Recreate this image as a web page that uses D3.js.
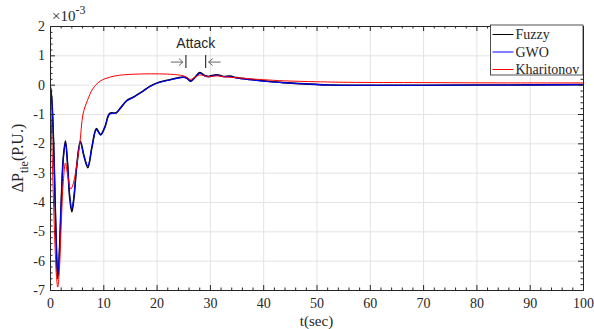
<!DOCTYPE html>
<html>
<head>
<meta charset="utf-8">
<script src="https://cdn.jsdelivr.net/npm/d3@7"></script>
<style>
  body { margin: 0; background: #fff; }
  svg { display: block; }
  .serif { font-family: "Times New Roman", "Liberation Serif", "DejaVu Serif", serif; }
  .axis text { font-family: "Times New Roman", "Liberation Serif", "DejaVu Serif", serif; font-size: 14px; fill: #262626; }
  .axis line, .axis path { stroke: #262626; }
  .grid line { stroke: #e3e3e3; }
  .grid path { display: none; }
</style>
</head>
<body>
<div id="chart"></div>
<script>
// values are in units of 1e-3 p.u.
const tGwo = [0, 0.3, 0.65, 1.0, 1.25, 1.45, 1.7, 2.1, 2.5, 2.9, 3.3, 3.7, 4.1, 4.5, 5.0, 5.7, 6.4, 7.1, 7.9, 8.7, 9.5, 10.3, 11.2, 12.4, 13.2, 14.4, 15.6, 17.5, 18.8, 20.6, 22.5, 25, 25.7, 26.4, 27.2, 28.1, 29, 29.7, 31.3, 32.5, 33.8, 35, 37.5, 40.6, 43.7, 48.8, 52.5, 60, 70, 85, 100];
const gwo = [0, -0.4, -1.8, -4.2, -5.8, -6.5, -5.9, -4.0, -2.5, -1.97, -2.7, -3.8, -4.25, -3.8, -2.8, -1.97, -2.45, -2.77, -2.1, -1.54, -1.72, -1.45, -1.0, -0.97, -0.8, -0.55, -0.44, -0.22, -0.06, 0.08, 0.16, 0.25, 0.21, 0.11, 0.24, 0.39, 0.3, 0.27, 0.33, 0.27, 0.28, 0.23, 0.17, 0.11, 0.07, 0.02, -0.01, -0.02, -0.02, -0.01, 0.0];
const fuzzy = [0, -0.42, -1.85, -4.3, -5.9, -6.62, -6.0, -4.05, -2.48, -1.92, -2.72, -3.85, -4.33, -3.85, -2.8, -1.93, -2.45, -2.83, -2.1, -1.5, -1.7, -1.44, -0.98, -0.96, -0.8, -0.54, -0.43, -0.21, -0.05, 0.09, 0.17, 0.26, 0.22, 0.12, 0.25, 0.41, 0.31, 0.28, 0.34, 0.28, 0.29, 0.24, 0.18, 0.12, 0.07, 0.02, -0.01, -0.02, -0.02, -0.01, 0.0];
const tKhar = [0, 0.2, 0.5, 0.9, 1.2, 1.45, 1.7, 2.1, 2.5, 2.9, 3.4, 3.9, 4.4, 5.0, 5.6, 6.2, 7.0, 8.0, 9.4, 11.3, 13, 15, 19, 22, 24.5, 25.5, 26.3, 27.2, 28.1, 29.7, 31.3, 33, 35, 37.5, 40, 44, 50, 56, 70, 85, 100];
const khar = [0, -1.0, -3.0, -5.3, -6.5, -6.9, -6.5, -4.8, -3.3, -2.67, -3.2, -3.56, -3.35, -2.75, -2.0, -1.0, -0.55, -0.15, 0.12, 0.26, 0.32, 0.35, 0.37, 0.36, 0.32, 0.27, 0.18, 0.25, 0.33, 0.27, 0.3, 0.26, 0.24, 0.2, 0.17, 0.13, 0.1, 0.08, 0.07, 0.06, 0.06];

const seriesNames = ["Fuzzy", "GWO", "Kharitonov"];
const seriesColors = ["#000000", "#0000ff", "#ff0000"];
const xTicks = [0, 10, 20, 30, 40, 50, 60, 70, 80, 90, 100];
const yTicks = [-7, -6, -5, -4, -3, -2, -1, 0, 1, 2];
// attack window markers (t in sec, levels in 1e-3 units)
const attackStart = 25.5, attackEnd = 29.2;
const attackLabelLevel = 1.25, attackArrowLevel = 0.77;

const width = 594, height = 329;
const margin = {top: 26, right: 11, bottom: 39, left: 50};
const innerW = width - margin.left - margin.right;
const innerH = height - margin.top - margin.bottom;

const svg = d3.select("#chart").append("svg")
    .attr("width", width)
    .attr("height", height);

const chart = svg.append("g")
    .attr("transform", `translate(${margin.left}, ${margin.top})`);

const x = d3.scaleLinear().domain([0, 100]).range([0, innerW]);
const y = d3.scaleLinear().domain([-7, 2]).range([innerH, 0]);

const xMinor = d3.range(0, 101, 2).filter(d => d % 10 !== 0);
const yMinor = d3.range(-70, 21, 2).map(d => d / 10).filter(d => !Number.isInteger(d));

// grid
chart.append("g").attr("class", "grid")
    .attr("transform", `translate(0, ${innerH})`)
    .call(d3.axisBottom(x).tickValues(xTicks).tickSize(-innerH).tickFormat(""));
chart.append("g").attr("class", "grid")
    .call(d3.axisLeft(y).tickValues(yTicks).tickSize(-innerW).tickFormat(""));

// series
chart.append("clipPath").attr("id", "clip")
    .append("rect").attr("width", innerW).attr("height", innerH);

const line = d3.line()
    .x(d => x(d[0]))
    .y(d => y(d[1]))
    .curve(d3.curveCatmullRom.alpha(0.5));

const seriesData = [
    d3.zip(tGwo, fuzzy),
    d3.zip(tGwo, gwo),
    d3.zip(tKhar, khar)
];
const widths = [1.6, 1.1, 1];

chart.append("g").attr("clip-path", "url(#clip)")
    .selectAll("path")
    .data(seriesData)
    .join("path")
    .attr("d", line)
    .attr("fill", "none")
    .attr("stroke", (d, i) => seriesColors[i])
    .attr("stroke-width", (d, i) => widths[i]);

// axes with inward ticks
function drawAxis(axis, transform, labels) {
    const g = chart.append("g").attr("class", "axis").attr("transform", transform);
    g.call(axis.tickSizeInner(-5).tickSizeOuter(0));
    if (!labels) g.selectAll("text").remove();
    return g;
}
const fmt = d => String(d);

drawAxis(d3.axisBottom(x).tickValues(xTicks).tickFormat(fmt).tickPadding(8), `translate(0, ${innerH})`, true);
drawAxis(d3.axisTop(x).tickValues(xTicks).tickFormat(""), "translate(0, 0)", false);
drawAxis(d3.axisLeft(y).tickValues(yTicks).tickFormat(fmt).tickPadding(5), "translate(0, 0)", true);
drawAxis(d3.axisRight(y).tickValues(yTicks).tickFormat(""), `translate(${innerW}, 0)`, false);

// minor ticks
drawAxis(d3.axisBottom(x).tickValues(xMinor).tickFormat(""), `translate(0, ${innerH})`).call(g => g.selectAll("line").attr("y2", -2.5));
drawAxis(d3.axisTop(x).tickValues(xMinor).tickFormat(""), "translate(0, 0)").call(g => g.selectAll("line").attr("y2", 2.5));
drawAxis(d3.axisLeft(y).tickValues(yMinor).tickFormat(""), "translate(0, 0)").call(g => g.selectAll("line").attr("x2", 2.5));
drawAxis(d3.axisRight(y).tickValues(yMinor).tickFormat(""), `translate(${innerW}, 0)`).call(g => g.selectAll("line").attr("x2", -2.5));

// exponent label
const expo = svg.append("text")
    .attr("class", "serif")
    .attr("x", 52).attr("y", 21)
    .style("font-size", "15px")
    .attr("fill", "#262626");
expo.append("tspan").text("×10");
expo.append("tspan").attr("dy", -7).style("font-size", "12px").text("-3");

// axis titles
svg.append("text")
    .attr("class", "serif")
    .attr("x", margin.left + x(50)).attr("y", 326)
    .attr("text-anchor", "middle")
    .style("font-size", "15px")
    .attr("fill", "#262626")
    .text("t(sec)");

const yl = svg.append("text")
    .attr("class", "serif")
    .attr("transform", `translate(23, ${margin.top + innerH / 2}) rotate(-90)`)
    .attr("text-anchor", "middle")
    .style("font-size", "16px")
    .attr("fill", "#262626");
yl.append("tspan").text("ΔP");
yl.append("tspan").attr("dy", 5).style("font-size", "12px").text("tie");
yl.append("tspan").attr("dy", -5).text("(P.U.)");

// attack annotation
const ann = chart.append("g");
const ax0 = x(attackStart), ax1 = x(attackEnd), ay = y(attackArrowLevel);
ann.append("text")
    .attr("x", (ax0 + ax1) / 2).attr("y", y(attackLabelLevel))
    .attr("text-anchor", "middle")
    .style("font-family", "Arial, 'Liberation Sans', sans-serif")
    .style("font-size", "14px")
    .attr("fill", "#262626")
    .text("Attack");
const arrowCol = "#555";
[[ax0, -1], [ax1, 1]].forEach(([bx, dir]) => {
    ann.append("line").attr("x1", bx).attr("x2", bx)
        .attr("y1", ay - 7).attr("y2", ay + 6)
        .attr("stroke", "#333").attr("stroke-width", 1.2);
    const tip = bx + dir * 3, tail = bx + dir * 15;
    ann.append("line").attr("x1", tail).attr("x2", tip)
        .attr("y1", ay).attr("y2", ay)
        .attr("stroke", arrowCol).attr("stroke-width", 0.9);
    ann.append("path")
        .attr("d", `M${tip + dir * 4},${ay - 3.5}L${tip},${ay}L${tip + dir * 4},${ay + 3.5}`)
        .attr("fill", "none").attr("stroke", arrowCol).attr("stroke-width", 0.9);
});

// legend
const legend = svg.append("g").attr("transform", "translate(490.5, 25)");
legend.append("rect")
    .attr("width", 92.5).attr("height", 50)
    .attr("fill", "#fff").attr("stroke", "#262626").attr("stroke-width", 0.8);
const rows = legend.selectAll("g.row")
    .data(seriesNames)
    .join("g").attr("class", "row")
    .attr("transform", (d, i) => `translate(0, ${9.5 + i * 17.5})`);
rows.append("line")
    .attr("x1", 2).attr("x2", 23)
    .attr("stroke", (d, i) => seriesColors[i]);
rows.append("text")
    .attr("class", "serif")
    .attr("x", 25).attr("dy", "0.35em")
    .style("font-size", "14px")
    .attr("fill", "#262626")
    .text(d => d);
</script>
</body>
</html>
